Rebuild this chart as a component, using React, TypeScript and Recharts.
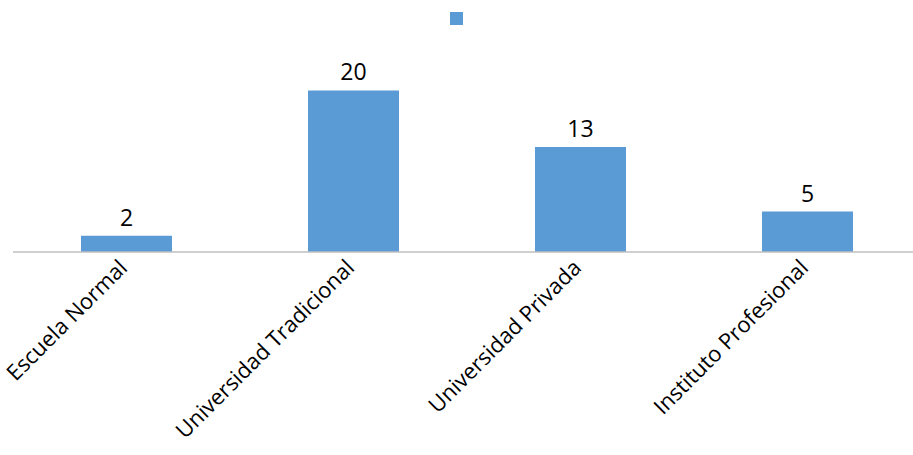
import { BarChart, Bar, XAxis, YAxis, Legend, LabelList } from 'recharts';

const categories = ['Escuela Normal', 'Universidad Tradicional', 'Universidad Privada', 'Instituto Profesional'];
const counts = [2, 20, 13, 5];

const data = categories.map((name, i) => ({ name, value: counts[i] }));

const BAR_COLOR = '#5b9bd5';
const FONT = '"Open Sans", "DejaVu Sans", sans-serif';

function AngledTick({ x, y, payload }: any) {
  return (
    <text
      x={x}
      y={y}
      dy={8}
      dx={-5}
      textAnchor='end'
      transform={`rotate(-45, ${x}, ${y})`}
      fill='#000'
      fontSize={22}
      fontFamily={FONT}
    >
      {payload.value}
    </text>
  );
}

function SquareLegend() {
  return (
    <div style={{ display: 'flex', justifyContent: 'center' }}>
      <div style={{ width: 13, height: 13, background: BAR_COLOR }} />
    </div>
  );
}

export default function App() {
  return (
    <div style={{ position: 'fixed', left: 0, top: 0, width: 913, height: 455, overflow: 'hidden', background: '#fff' }}>
      <BarChart
        width={921}
        height={455}
        data={data}
        margin={{ top: 37, right: 0, left: 13, bottom: 0 }}
      >
        <Legend verticalAlign='top' content={SquareLegend} wrapperStyle={{ top: 12, left: 0, width: 913 }} />
        <XAxis
          dataKey='name'
          height={203}
          interval={0}
          tick={<AngledTick />}
          tickLine={false}
          axisLine={{ stroke: '#bfbfbf', strokeWidth: 1.5 }}
        />
        <YAxis hide domain={[0, 25]} />
        <Bar dataKey='value' fill={BAR_COLOR} barSize={91} isAnimationActive={false}>
          <LabelList dataKey='value' position='top' offset={10} fill='#000' fontSize={23} fontFamily={FONT} />
        </Bar>
      </BarChart>
    </div>
  );
}
